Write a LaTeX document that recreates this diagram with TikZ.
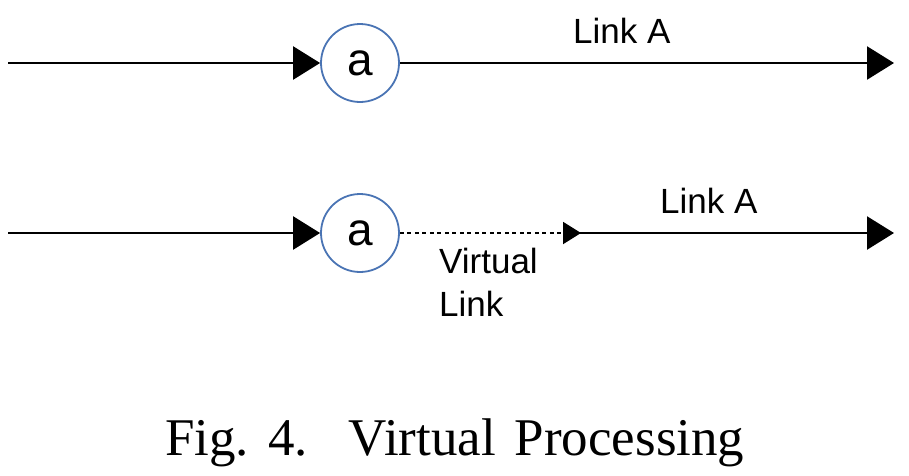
\documentclass[tikz,border=0pt]{standalone}
\usepackage{fontspec}
\setmainfont{Liberation Serif}
\setsansfont{Liberation Sans}
\usetikzlibrary{arrows.meta}
\definecolor{nodeblue}{HTML}{4A74B4}
\tikzset{
  nodecirc/.style={circle, draw=nodeblue, line width=1.8pt, minimum size=78pt, inner sep=0pt, font=\sffamily\fontsize{46}{50}\selectfont},
  link/.style={line width=2.4pt, -{Triangle[length=27pt,width=33pt]}},
  vlink/.style={line width=2pt, dash pattern=on 4pt off 3.5pt, -{Triangle[length=18pt,width=22pt]}},
  lbl/.style={font=\sffamily\fontsize{35}{44}\selectfont, inner sep=0pt, anchor=base west}
}
\begin{document}
\begin{tikzpicture}[x=1pt,y=-1pt]
\useasboundingbox (0,0) rectangle (909,475);
% row 1
\coordinate (s1) at (8,63);
\node[nodecirc] (a1) at (360,63) {a};
\coordinate (e1) at (894,63);
\draw[link] (s1) -- (a1.west);
\draw[link] (a1.east) -- (e1);
\node[lbl] (l1) at (573,43) {Link A};
% row 2
\coordinate (s2) at (8,233);
\node[nodecirc] (a2) at (360,233) {a};
\coordinate (m2) at (581,233);
\coordinate (e2) at (894,233);
\draw[link] (s2) -- (a2.west);
\draw[vlink] (a2.east) -- (m2);
\draw[link, shorten <=-1pt] (m2) -- (e2);
\node[lbl] (l2) at (660,213) {Link A};
\node[lbl] (v1) at (439,273) {Virtual};
\node[lbl] (v2) at (439,316) {Link};
% caption
\node[font=\fontsize{53}{58}\selectfont, inner sep=0pt, anchor=base west] (cap) at (165,455) {Fig.\hspace{19pt}4.\hspace{41pt}Virtual\hspace{19pt}Processing};
\end{tikzpicture}
\end{document}
